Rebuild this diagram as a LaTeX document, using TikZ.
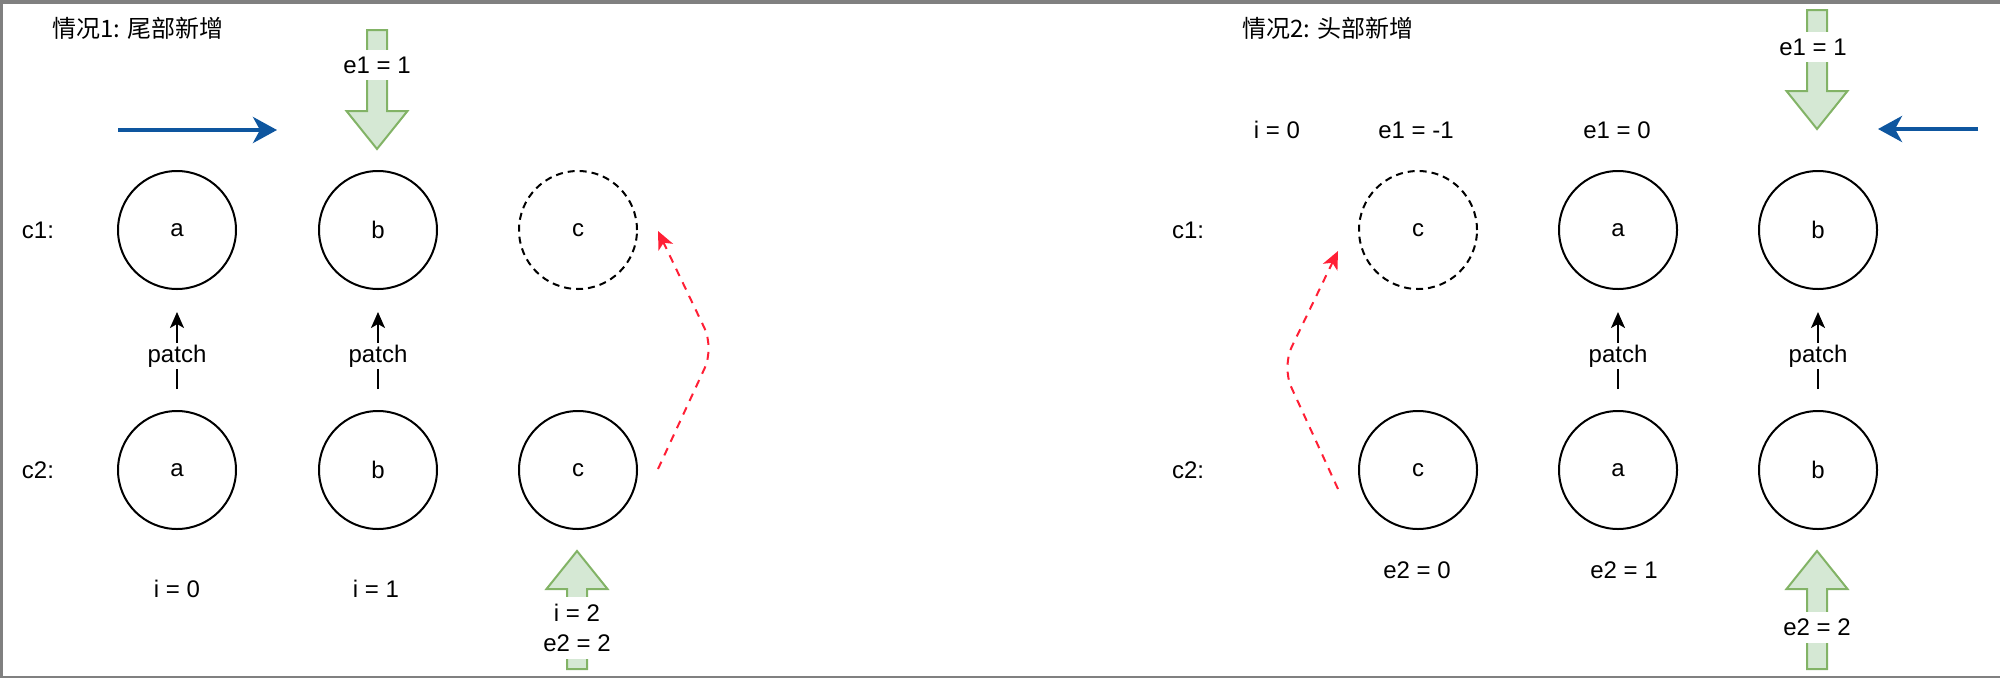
\documentclass[tikz,border=0pt]{standalone}
\usepackage{fontspec}
\setmainfont{Liberation Sans}
\newfontfamily\cjk{Noto Sans CJK SC}
\usetikzlibrary{arrows.meta}
\definecolor{block fill}{HTML}{D5E8D4}
\definecolor{block edge}{HTML}{82B366}
\definecolor{shift blue}{HTML}{0E569F}
\definecolor{new red}{HTML}{FF1F35}
\definecolor{frame gray}{HTML}{808080}
\newcommand\blockarrow[4]{%
  \filldraw[block] (#1-10,#2) -- (#1-10,#3) -- (#1-30.5,#3) -- (#1,#4)
    -- (#1+30.5,#3) -- (#1+10,#3) -- (#1+10,#2) -- cycle;}
\tikzset{
  elem/.style={circle, draw, line width=2pt, minimum size=118pt, inner sep=0pt},
  ghost/.style={elem, dash pattern=on 7pt off 5pt},
  block/.style={fill=block fill, draw=block edge, line width=2pt},
  on shaft/.style={fill=white, inner xsep=3pt, inner ysep=7pt, align=center},
  patch arrow/.style={-{Stealth[length=16pt, width=14pt, inset=4pt]}, line width=2pt,
    shorten <=21pt, shorten >=22pt},
  patch label/.style={fill=white, inner sep=1.5pt, pos=0.45},
  shift arrow/.style={-{Stealth[length=24pt, width=26pt, inset=7pt]}, draw=shift blue,
    line width=4pt},
  new arrow/.style={-{Stealth[length=18pt, width=16pt, inset=5pt]}, draw=new red,
    line width=2pt, dash pattern=on 8pt off 7pt, rounded corners=22pt}
}

\begin{document}
\begin{tikzpicture}[x=1pt, y=-1pt, font=\fontsize{24}{30}\selectfont]
  \useasboundingbox (0,0) rectangle (2000,678);
  \fill[frame gray] (0,0) rectangle (2000,4);
  \fill[frame gray] (0,0) rectangle (2.5,678);
  \fill[frame gray] (0,676) rectangle (2000,678);

  % tail insert
  \node (tailtitle) at (138,28) {\cjk 情况1: 尾部新增};
  \node (tailrow1) at (38,230) {c1:};
  \node (tailrow2) at (38,470) {c2:};
  \node[elem] (ta1) at (177,230) {a};
  \node[elem] (tb1) at (378,230) {b};
  \node[ghost] (tc1) at (578,230) {c};
  \node[elem] (ta2) at (177,470) {a};
  \node[elem] (tb2) at (378,470) {b};
  \node[elem] (tc2) at (578,470) {c};
  \draw[patch arrow] (ta2) -- node[patch label] {patch} (ta1);
  \draw[patch arrow] (tb2) -- node[patch label] {patch} (tb1);
  \node (ti0) at (177,589) {i = 0};
  \node (ti1) at (376,589) {i = 1};
  \blockarrow{377}{30}{111}{149}
  \node[on shaft] (te1) at (377,65) {e1 = 1};
  \blockarrow{577}{669}{589}{551}
  \node[on shaft] (te2) at (577,628) {i = 2\\e2 = 2};
  \coordinate (tshiftA) at (118,130);
  \coordinate (tshiftB) at (277,130);
  \draw[shift arrow] (tshiftA) -- (tshiftB);
  \coordinate (tnewA) at (658,469);
  \coordinate (tnewM) at (714,348);
  \coordinate (tnewB) at (658,231);
  \draw[new arrow] (tnewA) -- (tnewM) -- (tnewB);

  % head insert
  \node (headtitle) at (1328,28) {\cjk 情况2: 头部新增};
  \node (headrow1) at (1188,230) {c1:};
  \node (headrow2) at (1188,470) {c2:};
  \node[ghost] (hc1) at (1418,230) {c};
  \node[elem] (ha1) at (1618,230) {a};
  \node[elem] (hb1) at (1818,230) {b};
  \node[elem] (hc2) at (1418,470) {c};
  \node[elem] (ha2) at (1618,470) {a};
  \node[elem] (hb2) at (1818,470) {b};
  \draw[patch arrow] (ha2) -- node[patch label] {patch} (ha1);
  \draw[patch arrow] (hb2) -- node[patch label] {patch} (hb1);
  \node (hi0) at (1277,130) {i = 0};
  \node (he1c) at (1416,130) {e1 = -1};
  \node (he1a) at (1617,130) {e1 = 0};
  \node (he2c) at (1417,570) {e2 = 0};
  \node (he2a) at (1624,570) {e2 = 1};
  \blockarrow{1817}{10}{91}{129}
  \node[on shaft] (he1) at (1813,47) {e1 = 1};
  \blockarrow{1817}{669}{589}{551}
  \node[on shaft] (he2) at (1817,627) {e2 = 2};
  \coordinate (hshiftA) at (1978,129);
  \coordinate (hshiftB) at (1878,129);
  \draw[shift arrow] (hshiftA) -- (hshiftB);
  \coordinate (hnewA) at (1338,489);
  \coordinate (hnewM) at (1282,367);
  \coordinate (hnewB) at (1338,251);
  \draw[new arrow] (hnewA) -- (hnewM) -- (hnewB);
\end{tikzpicture}
\end{document}
